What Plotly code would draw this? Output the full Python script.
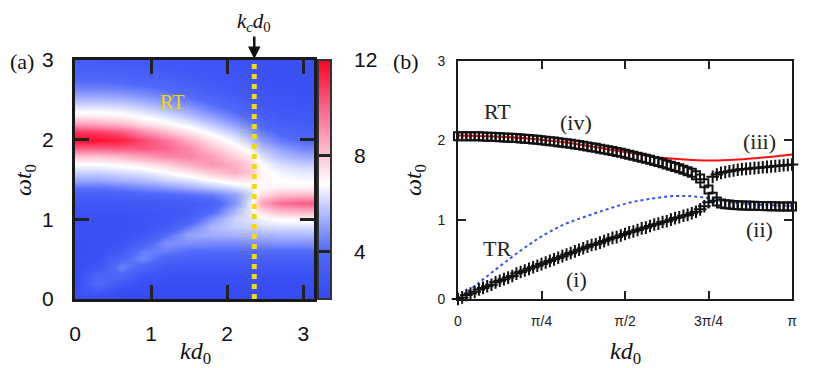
import numpy as np
import plotly.graph_objects as go

# ---- panel (a): intensity map on a coarse grid ----
k_cols = [0, 0.3, 0.6, 0.9, 1.2, 1.5, 1.8, 2.1, 2.3, 2.45, 2.7, 3.0, 3.14]
w_rows = [3.0, 2.9, 2.8, 2.7, 2.6, 2.5, 2.4, 2.3, 2.2, 2.1, 2.0, 1.9, 1.8, 1.7, 1.6,
          1.5, 1.4, 1.3, 1.2, 1.1, 1.0, 0.9, 0.8, 0.7, 0.6, 0.5, 0.4, 0.3, 0.2, 0.1, 0.0]
intensity = [
    [3.2, 3.2, 3.1, 3.0, 2.9, 2.8, 2.7, 2.6, 2.6, 2.6, 2.6, 2.6, 2.6],
    [3.4, 3.4, 3.3, 3.2, 3.1, 2.9, 2.8, 2.7, 2.6, 2.6, 2.6, 2.6, 2.6],
    [3.7, 3.7, 3.6, 3.5, 3.3, 3.1, 2.9, 2.8, 2.7, 2.6, 2.6, 2.6, 2.6],
    [4.2, 4.2, 4.1, 3.9, 3.7, 3.4, 3.1, 2.9, 2.8, 2.7, 2.6, 2.6, 2.6],
    [4.8, 4.8, 4.7, 4.5, 4.2, 3.8, 3.4, 3.1, 2.9, 2.8, 2.7, 2.6, 2.6],
    [5.6, 5.6, 5.5, 5.2, 4.8, 4.3, 3.8, 3.4, 3.1, 2.9, 2.8, 2.7, 2.7],
    [6.4, 6.4, 6.3, 6.0, 5.5, 5.0, 4.3, 3.8, 3.4, 3.1, 2.9, 2.8, 2.8],
    [7.2, 7.2, 7.0, 6.7, 6.3, 5.7, 5.0, 4.3, 3.8, 3.4, 3.1, 3.0, 3.0],
    [8.8, 8.6, 8.2, 7.5, 7.0, 6.5, 5.8, 5.0, 4.4, 3.8, 3.4, 3.2, 3.2],
    [11.0, 10.8, 10.3, 9.2, 8.2, 7.3, 6.6, 5.8, 5.1, 4.4, 3.8, 3.5, 3.5],
    [11.8, 11.7, 11.4, 10.6, 9.6, 8.4, 7.3, 6.5, 5.8, 5.0, 4.3, 3.9, 3.9],
    [10.2, 10.2, 10.3, 10.3, 10.0, 9.2, 8.0, 7.1, 6.5, 5.7, 5.0, 4.5, 4.5],
    [8.0, 8.0, 8.3, 8.8, 9.3, 9.4, 8.7, 7.7, 7.1, 6.3, 5.6, 5.2, 5.2],
    [6.8, 6.8, 7.0, 7.3, 7.8, 8.5, 9.0, 8.4, 7.7, 6.8, 6.2, 5.9, 5.9],
    [6.0, 6.0, 6.2, 6.4, 6.8, 7.3, 8.0, 8.5, 8.0, 7.0, 6.6, 6.4, 6.4],
    [5.2, 5.2, 5.4, 5.6, 6.0, 6.3, 6.8, 7.3, 7.3, 7.0, 6.8, 6.7, 6.7],
    [4.2, 4.2, 4.4, 4.7, 5.0, 5.4, 5.8, 6.3, 6.6, 6.9, 7.0, 7.0, 7.0],
    [3.4, 3.4, 3.5, 3.6, 3.8, 4.0, 4.3, 5.0, 6.0, 7.5, 8.2, 8.3, 8.3],
    [2.9, 2.9, 2.9, 3.0, 3.1, 3.2, 3.5, 4.8, 6.4, 8.6, 9.8, 10.2, 10.2],
    [2.7, 2.7, 2.7, 2.8, 2.9, 3.1, 3.9, 5.5, 6.4, 7.6, 8.2, 8.4, 8.4],
    [2.6, 2.6, 2.6, 2.7, 2.8, 3.4, 4.9, 6.0, 6.3, 6.6, 6.9, 7.0, 7.0],
    [2.5, 2.5, 2.6, 2.7, 3.1, 4.4, 5.5, 5.9, 6.0, 6.1, 6.2, 6.2, 6.2],
    [2.5, 2.5, 2.6, 2.9, 4.0, 5.2, 5.3, 5.4, 5.4, 5.4, 5.5, 5.5, 5.5],
    [2.4, 2.5, 2.7, 3.5, 4.8, 4.7, 4.6, 4.6, 4.7, 4.7, 4.8, 4.8, 4.8],
    [2.4, 2.5, 3.0, 4.4, 4.4, 4.0, 4.0, 4.0, 4.0, 4.0, 4.0, 4.0, 4.0],
    [2.4, 2.6, 3.8, 4.6, 3.6, 3.4, 3.4, 3.4, 3.4, 3.4, 3.4, 3.4, 3.4],
    [2.3, 2.9, 4.5, 3.6, 3.0, 2.9, 2.9, 2.9, 2.9, 2.9, 2.9, 2.9, 2.9],
    [2.3, 3.6, 3.8, 2.9, 2.6, 2.6, 2.6, 2.6, 2.6, 2.6, 2.6, 2.6, 2.6],
    [2.3, 4.0, 3.0, 2.5, 2.4, 2.4, 2.4, 2.4, 2.4, 2.4, 2.4, 2.4, 2.4],
    [2.6, 3.2, 2.4, 2.3, 2.3, 2.3, 2.3, 2.3, 2.3, 2.3, 2.3, 2.3, 2.3],
    [2.2, 2.2, 2.2, 2.2, 2.2, 2.2, 2.2, 2.2, 2.2, 2.2, 2.2, 2.2, 2.2],
]
kc = 3 * np.pi / 4
cbar_ticks = [4, 8, 12]

# ---- panel (b): dispersion curves ----
k_fine = np.linspace(0, np.pi, 81)
w_squares = [2.05, 2.05, 2.05, 2.05, 2.05, 2.05, 2.048, 2.046, 2.044, 2.042,
             2.04, 2.037, 2.034, 2.031, 2.028, 2.024, 2.02, 2.016, 2.012, 2.007,
             2.002, 1.996, 1.99, 1.984, 1.977, 1.97, 1.963, 1.956, 1.948, 1.94,
             1.932, 1.923, 1.914, 1.905, 1.895, 1.885, 1.875, 1.864, 1.853, 1.842,
             1.83, 1.818, 1.806, 1.793, 1.78, 1.767, 1.754, 1.74, 1.726, 1.711,
             1.696, 1.68, 1.664, 1.647, 1.63, 1.61, 1.59, 1.56, 1.52, 1.46,
             1.38, 1.29, 1.23, 1.205, 1.195, 1.19, 1.186, 1.183, 1.18, 1.178,
             1.176, 1.174, 1.172, 1.171, 1.17, 1.169, 1.168, 1.167, 1.166, 1.166,
             1.165]
w_plus_low = [0.0, 0.02, 0.05, 0.07, 0.09, 0.12, 0.14, 0.16, 0.18, 0.21,
              0.23, 0.25, 0.27, 0.29, 0.32, 0.34, 0.36, 0.38, 0.40, 0.42,
              0.44, 0.46, 0.48, 0.50, 0.52, 0.54, 0.56, 0.58, 0.60, 0.62,
              0.64, 0.66, 0.68, 0.69, 0.71, 0.73, 0.75, 0.77, 0.78, 0.80,
              0.82, 0.84, 0.85, 0.87, 0.89, 0.90, 0.92, 0.94, 0.95, 0.97,
              0.98, 1.00, 1.02, 1.03, 1.05, 1.06, 1.08, 1.10, 1.13, 1.17,
              1.22]
w_plus_high = [1.54, 1.57, 1.59, 1.60, 1.61, 1.62, 1.63, 1.635, 1.64, 1.645,
               1.65, 1.655, 1.66, 1.665, 1.67, 1.675, 1.68, 1.685, 1.69, 1.695]
k_bare = [0, 0.2, 0.4, 0.6, 0.8, 1.0, 1.2, 1.4, 1.6, 1.8, 2.0, 2.2, 2.4, 2.6, 2.8, 3.0, 3.1416]
w_rt_bare = [2.06, 2.055, 2.045, 2.03, 2.005, 1.975, 1.935, 1.89, 1.845, 1.80,
             1.77, 1.752, 1.745, 1.755, 1.775, 1.80, 1.82]
k_tr = [0, 0.2, 0.4, 0.6, 0.8, 1.0, 1.2, 1.4, 1.6, 1.8, 2.0, 2.2, 2.36, 2.5, 2.7, 2.9, 3.1416]
w_tr_bare = [0, 0.21, 0.42, 0.62, 0.80, 0.94, 1.04, 1.13, 1.21, 1.26,
             1.295, 1.295, 1.27, 1.23, 1.20, 1.185, 1.175]
xtick_vals = [0, np.pi / 4, np.pi / 2, 3 * np.pi / 4, np.pi]
xtick_text = ["0", "π/4", "π/2", "3π/4", "π"]

W, H = 830, 368
OFF = 8  # the page body adds an 8px margin, so lay out in screen pixels minus that
def px(x):
    return (x - OFF) / W
def py(y):
    return (H - (y - OFF)) / H

colorscale = [
    [0.0, "rgb(50,70,242)"],
    [0.2, "rgb(82,106,250)"],
    [0.36, "rgb(178,188,255)"],
    [0.48, "rgb(255,255,255)"],
    [0.6, "rgb(255,195,212)"],
    [0.8, "rgb(250,100,140)"],
    [1.0, "rgb(255,0,32)"],
]

fig = go.Figure()
fig.add_trace(go.Heatmap(
    x=k_cols, y=w_rows[::-1], z=intensity[::-1],
    zmin=2, zmax=12, zsmooth="best", colorscale=colorscale,
    xaxis="x", yaxis="y",
    colorbar=dict(x=px(318), xanchor="left", y=py(299), yanchor="bottom",
                  len=(299 - 60) / H, lenmode="fraction", thickness=13,
                  thicknessmode="pixels", outlinewidth=2, outlinecolor="#333",
                  ticks="inside", ticklen=13, tickwidth=2.5, tickcolor="#222",
                  tickvals=cbar_ticks[:2], showticklabels=False, xpad=0, ypad=0),
))
fig.add_trace(go.Scatter(
    x=[kc, kc], y=[0, 3], mode="lines", xaxis="x", yaxis="y",
    line=dict(color="#f5d90a", width=5, dash="5px,5px"), showlegend=False,
))

# panel (b) traces
fig.add_trace(go.Scatter(x=k_bare, y=w_rt_bare, mode="lines", xaxis="x2", yaxis="y2",
                         line=dict(color="#ff1010", width=2, shape="spline"), showlegend=False))
fig.add_trace(go.Scatter(x=k_tr, y=w_tr_bare, mode="lines", xaxis="x2", yaxis="y2",
                         line=dict(color="#3a50f0", width=2, dash="dot", shape="spline"),
                         showlegend=False))
fig.add_trace(go.Scatter(x=k_fine, y=w_squares, mode="markers", xaxis="x2", yaxis="y2",
                         marker=dict(symbol="square-open", size=8, color="#111",
                                     line=dict(width=2, color="#111")),
                         cliponaxis=False, showlegend=False))
fig.add_trace(go.Scatter(x=k_fine[:61], y=w_plus_low, mode="markers", xaxis="x2", yaxis="y2",
                         marker=dict(symbol="cross-thin", size=9,
                                     line=dict(width=2, color="#111")),
                         cliponaxis=False, showlegend=False))
fig.add_trace(go.Scatter(x=k_fine[61:], y=w_plus_high, mode="markers", xaxis="x2", yaxis="y2",
                         marker=dict(symbol="cross-thin", size=9,
                                     line=dict(width=2, color="#111")),
                         cliponaxis=False, showlegend=False))

sans = "Liberation Sans, Arial, sans-serif"
serif = "Liberation Serif, Times New Roman, serif"
axis_a = dict(showgrid=False, zeroline=False, showline=True, linewidth=3, linecolor="#1a1a1a",
              mirror="ticks", ticks="inside", ticklen=14, tickwidth=2.5, tickcolor="#222",
              tickfont=dict(family=sans, size=21, color="#111"), ticklabelstandoff=14)
axis_b = dict(showgrid=False, zeroline=False, showline=True, linewidth=2, linecolor="#1a1a1a",
              mirror="ticks", ticks="inside", ticklen=8, tickwidth=1.5, tickcolor="#222",
              tickfont=dict(family=sans, size=14, color="#222"), ticklabelstandoff=8)

fig.update_layout(
    width=W, height=H, margin=dict(l=0, r=0, t=0, b=0, autoexpand=False),
    paper_bgcolor="white", plot_bgcolor="white", showlegend=False,
    xaxis=dict(axis_a, domain=[px(75), px(314)], range=[0, np.pi], tickvals=[0, 1, 2, 3], anchor="y"),
    yaxis=dict(axis_a, domain=[py(299), py(60)], range=[0, 3], tickvals=[0, 1, 2, 3], anchor="x"),
    xaxis2=dict(axis_b, domain=[px(458), px(792)], range=[0, np.pi], tickvals=xtick_vals,
                ticktext=xtick_text, anchor="y2"),
    yaxis2=dict(axis_b, domain=[py(299), py(61)], range=[0, 3], tickvals=[0, 1, 2, 3], anchor="x2"),
)

ann = []
# colorbar labels
for v in cbar_ticks:
    ann.append(dict(text=str(v), xref="paper", yref="y", x=px(352), y=(v - 2) / 10 * 3,
                    xanchor="left", yanchor="middle", showarrow=False,
                    font=dict(family=sans, size=21, color="#111")))
title_font = dict(family=serif, size=24, color="#111")
def label(text, x, y, **kw):
    d = dict(text=text, xref="paper", yref="paper", x=px(x), y=py(y),
             xanchor="center", yanchor="middle", showarrow=False, font=title_font)
    d.update(kw)
    return d
ann += [
    label("<i>ωt</i><sub>0</sub>", 25, 180, textangle=-90),
    label("<i>ωt</i><sub>0</sub>", 415, 180, textangle=-90),
    label("<i>kd</i><sub>0</sub>", 195, 353),
    label("<i>kd</i><sub>0</sub>", 625, 353),
    label("(a)", 8, 62, xanchor="left", font=dict(family=serif, size=22, color="#111")),
    label("(b)", 406, 62, font=dict(family=serif, size=22, color="#111")),
    dict(text="<i>k</i><sub><i>c</i></sub><i>d</i><sub>0</sub>", xref="x", yref="y", x=kc, y=3,
         ax=0, ay=-38, showarrow=True, arrowhead=2, arrowsize=1, arrowwidth=2.5,
         arrowcolor="#111", standoff=1, font=dict(family=serif, size=21, color="#111")),
    dict(text="RT", xref="x", yref="y", x=1.27, y=2.47, showarrow=False,
         font=dict(family=serif, size=20, color="#f2d600")),
]
lab_font = dict(family=serif, size=22, color="#222")
for t, x, y in [("RT", 0.367, 2.36), ("TR", 0.367, 0.64), ("(iv)", 1.11, 2.23),
                ("(iii)", 2.84, 1.98), ("(ii)", 2.84, 0.87), ("(i)", 1.11, 0.24)]:
    ann.append(dict(text=t, xref="x2", yref="y2", x=x, y=y, showarrow=False, font=lab_font))
fig.update_layout(annotations=ann)

fig.write_html("out.html")
